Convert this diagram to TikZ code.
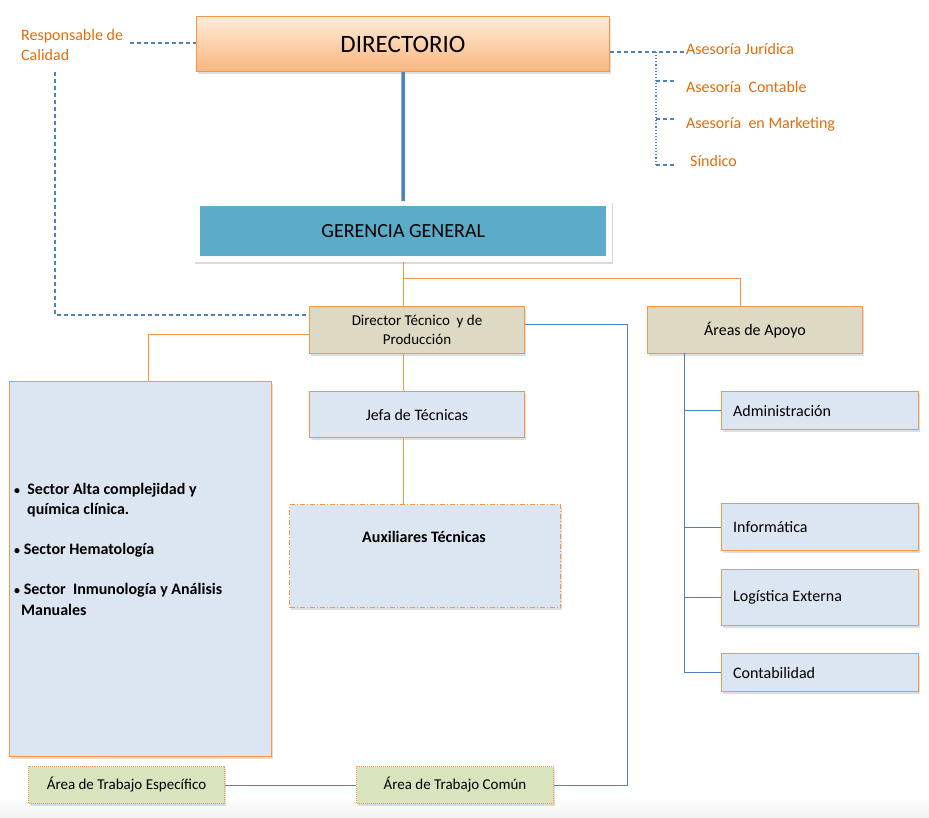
\documentclass[tikz,border=0pt]{standalone}
\usepackage{fontspec}
\setmainfont{Carlito}
\usetikzlibrary{shadows}
\definecolor{orn}{HTML}{F79646}
\definecolor{ortxt}{HTML}{E36C09}
\definecolor{blu}{HTML}{4F81BD}
\definecolor{lblu}{HTML}{DCE6F2}
\definecolor{tan}{HTML}{DDD9C3}
\definecolor{teal}{HTML}{5AACC8}
\definecolor{grn}{HTML}{D7E4BD}
\newcommand{\blt}{{\fontsize{12}{14}\selectfont •}}
\tikzset{
  x=1pt,y=-1pt,
  box/.style={draw=orn,line width=1pt,inner sep=0pt,anchor=north west,
    drop shadow={opacity=0.25,shadow xshift=1.5pt,shadow yshift=-2pt}},
  tanbox/.style={box,fill=tan},
  bluebox/.style={box,fill=lblu},
  grnbox/.style={box,fill=grn,densely dotted},
  oline/.style={draw=orn,line width=1pt},
  bline/.style={draw=blu,line width=1pt},
  bdash/.style={draw=blu,line width=1.1pt,dash pattern=on 4pt off 3pt},
  bdot/.style={draw=blu,line width=1.1pt,dotted},
  otext/.style={text=ortxt,font=\fontsize{16}{20}\selectfont,inner sep=0pt},
  lab/.style={font=\fontsize{16}{19}\selectfont,inner sep=0pt},
  blab/.style={font=\bfseries\fontsize{16}{19}\selectfont,anchor=west,inner sep=0pt},
}
\begin{document}
\begin{tikzpicture}
\useasboundingbox (0,0) rectangle (929,817);
\fill[top color=white,bottom color=black!5] (0,797) rectangle (929,817);
% DIRECTORIO
\node[box,top color=orange!15,bottom color=orn!70,minimum width=413pt,minimum height=55pt] (dir) at (196,16) {};
\node[font=\fontsize{25}{30}\selectfont] at (dir.center) {DIRECTORIO};
% Gerencia
\node[fill=white,anchor=north west,minimum width=418pt,minimum height=61pt,inner sep=0pt,
  drop shadow={opacity=0.3,shadow xshift=1pt,shadow yshift=-2pt}] (gerout) at (194,201) {};
\node[fill=teal,anchor=north west,minimum width=406pt,minimum height=50pt,inner sep=0pt] (ger) at (200,206) {};
\node[font=\fontsize{20}{24}\selectfont] at (ger.center) {GERENCIA GENERAL};
\draw[draw=blu,line width=3.5pt] (dir.south) -- (gerout.north);
% Director tecnico
\node[tanbox,minimum width=215pt,minimum height=47pt] (dt) at (309,306) {};
\node[font=\fontsize{15}{19}\selectfont,align=center] at (dt.center) {Director Técnico \ y de\\Producción};
% Areas de apoyo
\node[tanbox,minimum width=215pt,minimum height=47pt] (aa) at (647,306) {};
\node[lab] at (aa.center) {Áreas de Apoyo};
\coordinate (g1) at (403,278);
\coordinate (g2) at (740,278);
\draw[oline] (gerout.south) -- (gerout.south |- dt.north);
\draw[oline] (g1) -- (g2) -- (g2 |- aa.north);
% big box
\node[bluebox,minimum width=262pt,minimum height=375pt] (big) at (9,381) {};
\node[blab] (b1) at (14,490) {\blt\ \ Sector Alta complejidad y};
\node[blab] (b1b) at (27,510) {química clínica.};
\node[blab] (b2) at (14,550) {\blt\ Sector Hematología};
\node[blab] (b3) at (14,590) {\blt\ Sector \ Inmunología y Análisis};
\node[blab] (b3b) at (21,610) {Manuales};
\coordinate (dl) at (148,334);
\draw[oline] (dt.west |- dl) -- (dl) -- (big.north -| dl);
% Jefa
\node[bluebox,minimum width=215pt,minimum height=46pt] (jefa) at (309,391) {};
\node[lab] at (jefa.center) {Jefa de Técnicas};
\draw[oline] (dt.south -| 403,0) -- (jefa.north -| 403,0);
% Auxiliares
\node[bluebox,dash pattern=on 5pt off 2pt on 1pt off 2pt,minimum width=271pt,minimum height=103pt] (aux) at (289,504) {};
\node[font=\bfseries\fontsize{16}{19}\selectfont] at (424,537) {Auxiliares Técnicas};
\draw[oline] (jefa.south -| 403,0) -- (aux.north -| 403,0);
% bottom green
\node[grnbox,minimum width=196pt,minimum height=37pt] (ate) at (28,766) {};
\node[font=\fontsize{15}{18}\selectfont] at (ate.center) {Área de Trabajo Específico};
\node[grnbox,minimum width=197pt,minimum height=37pt] (atc) at (356,766) {};
\node[font=\fontsize{15}{18}\selectfont] at (atc.center) {Área de Trabajo Común};
\draw[bline] (ate.east) -- (atc.west);
\coordinate (r1) at (627,324);
\draw[bline] (dt.east |- r1) -- (r1) |- (atc.east);
% support items
\node[bluebox,minimum width=197pt,minimum height=38pt] (adm) at (721,391) {};
\node[lab,anchor=west] at ([xshift=12pt]adm.west) {Administración};
\node[bluebox,minimum width=197pt,minimum height=47pt] (inf) at (721,503) {};
\node[lab,anchor=west] at ([xshift=12pt]inf.west) {Informática};
\node[bluebox,minimum width=197pt,minimum height=56pt] (log) at (721,569) {};
\node[lab,anchor=west] at ([xshift=12pt]log.west) {Logística Externa};
\node[bluebox,minimum width=197pt,minimum height=38pt] (con) at (721,653) {};
\node[lab,anchor=west] at ([xshift=12pt]con.west) {Contabilidad};
\coordinate (av) at (684,353);
\draw[bline] (av) |- (con.west);
\draw[bline] (av |- adm.west) -- (adm.west);
\draw[bline] (av |- inf.west) -- (inf.west);
\draw[bline] (av |- log.west) -- (log.west);
% Responsable de calidad
\node[otext,anchor=north west,align=left] (rc) at (21,29) {Responsable de\\Calidad};
\coordinate (rc1) at (130,43);
\draw[bdash] (rc1) -- (dir.west |- rc1);
\coordinate (rc2) at (55,72);
\draw[bdash] (rc2) |- (dt.west |- 0,315);
% Asesorias
\node[otext,anchor=west] (aj) at (686,49) {Asesoría Jurídica};
\node[otext,anchor=west] (ac) at (686,87) {Asesoría \ Contable};
\node[otext,anchor=west] (am) at (686,124) {Asesoría \ en Marketing};
\node[otext,anchor=west] (sd) at (690,161) {Síndico};
\coordinate (a0) at (656,52);
\draw[bdash] (dir.east |- a0) -- (aj.west |- a0);
\draw[bdot] (a0) -- (656,165);
\draw[bdash] (656,81) -- (675,81);
\draw[bdash] (656,119) -- (675,119);
\draw[bdash] (656,165) -- (675,165);
\end{tikzpicture}
\end{document}
